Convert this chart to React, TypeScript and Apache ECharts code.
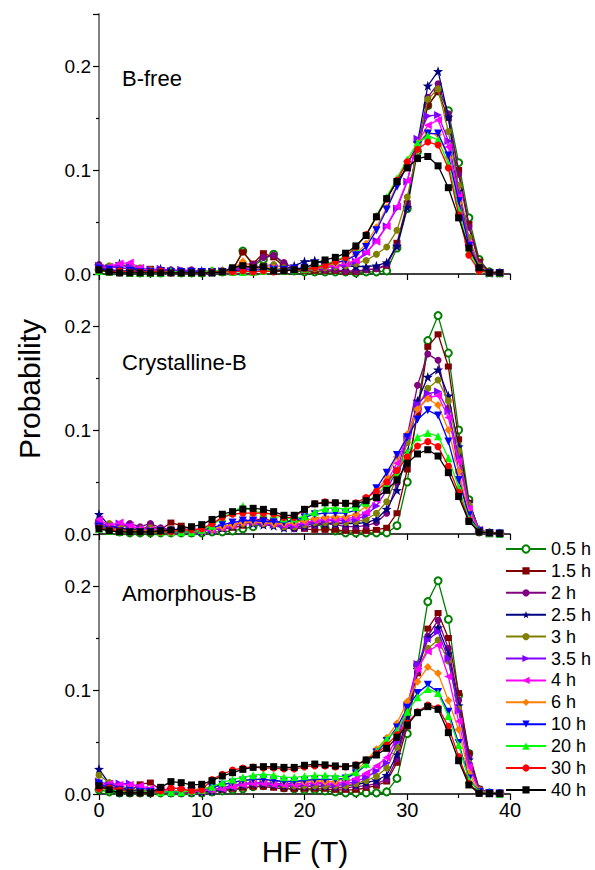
import React, { useEffect, useRef } from 'react';
import * as echarts from 'echarts';

// HF (T) values of every point
const HF = [0,1,2,3,4,5,6,7,8,9,10,11,12,13,14,15,16,17,18,19,20,21,22,23,24,25,26,27,28,29,30,31,32,33,34,35,36,37,38,39];

const SERIES_NAMES = ['0.5 h','1.5 h','2 h','2.5 h','3 h','3.5 h','4 h','6 h','10 h','20 h','30 h','40 h'];
const PANEL_TITLES = ['B-free','Crystalline-B','Amorphous-B'];
const X_TICKS = [0, 10, 20, 30, 40];
const Y_TICK_LABELS = [0, 0.1, 0.2];

// ---- B-free ----
const bf05 = [0.004,0.003,0.002,0.002,0.001,0.001,0.001,0.002,0.001,0.001,0.001,0.002,0.002,0.004,0.022,0.008,0.014,0.019,0.008,0.003,0.002,0.002,0.002,0.002,0.002,0.001,0.002,0.002,0.003,0.025,0.063,0.118,0.162,0.176,0.157,0.107,0.054,0.014,0.002,0.001];
const bf15 = [0.006,0.004,0.003,0.002,0.004,0.005,0.002,0.001,0.002,0.001,0.001,0.002,0.002,0.004,0.021,0.010,0.020,0.016,0.007,0.004,0.003,0.003,0.003,0.003,0.002,0.002,0.004,0.005,0.008,0.030,0.068,0.120,0.162,0.175,0.150,0.100,0.048,0.012,0.002,0.001];
const bf2 = [0.009,0.007,0.006,0.005,0.004,0.003,0.003,0.004,0.003,0.004,0.002,0.002,0.003,0.005,0.010,0.009,0.016,0.018,0.011,0.005,0.004,0.005,0.004,0.004,0.003,0.003,0.004,0.005,0.009,0.027,0.066,0.122,0.170,0.183,0.154,0.096,0.045,0.010,0.002,0.001];
const bf25 = [0.008,0.006,0.010,0.006,0.004,0.003,0.005,0.003,0.002,0.002,0.003,0.002,0.003,0.004,0.006,0.005,0.006,0.005,0.004,0.008,0.012,0.013,0.010,0.008,0.008,0.007,0.007,0.008,0.011,0.027,0.064,0.126,0.181,0.195,0.151,0.080,0.030,0.006,0.001,0.001];
const bf3 = [0.007,0.008,0.009,0.008,0.006,0.004,0.003,0.002,0.003,0.002,0.002,0.003,0.003,0.004,0.008,0.006,0.008,0.009,0.006,0.004,0.004,0.005,0.006,0.007,0.008,0.010,0.013,0.019,0.026,0.042,0.074,0.120,0.168,0.178,0.137,0.085,0.035,0.008,0.002,0.001];
const bf35 = [0.008,0.006,0.008,0.007,0.005,0.004,0.005,0.003,0.004,0.003,0.002,0.002,0.003,0.004,0.006,0.005,0.006,0.006,0.004,0.004,0.005,0.006,0.007,0.008,0.009,0.012,0.020,0.032,0.046,0.063,0.089,0.130,0.152,0.153,0.128,0.078,0.030,0.006,0.001,0.001];
const bf4 = [0.006,0.007,0.010,0.011,0.006,0.003,0.003,0.002,0.002,0.002,0.002,0.002,0.002,0.003,0.005,0.005,0.007,0.006,0.004,0.004,0.005,0.006,0.007,0.008,0.010,0.013,0.021,0.031,0.046,0.065,0.090,0.126,0.143,0.148,0.122,0.074,0.029,0.006,0.001,0.001];
const bf6 = [0.004,0.003,0.003,0.002,0.002,0.002,0.002,0.002,0.002,0.002,0.002,0.002,0.003,0.005,0.012,0.006,0.006,0.006,0.004,0.004,0.005,0.006,0.008,0.010,0.013,0.019,0.029,0.045,0.064,0.086,0.105,0.126,0.136,0.134,0.112,0.068,0.026,0.005,0.001,0.001];
const bf10 = [0.005,0.004,0.003,0.003,0.002,0.002,0.003,0.002,0.002,0.002,0.002,0.002,0.002,0.003,0.004,0.004,0.004,0.004,0.004,0.005,0.006,0.007,0.009,0.011,0.013,0.018,0.026,0.042,0.062,0.084,0.105,0.124,0.135,0.135,0.114,0.070,0.027,0.005,0.001,0.001];
const bf20 = [0.003,0.002,0.002,0.001,0.001,0.001,0.001,0.003,0.001,0.001,0.001,0.004,0.002,0.002,0.002,0.002,0.003,0.004,0.003,0.004,0.005,0.007,0.009,0.013,0.017,0.026,0.038,0.056,0.074,0.092,0.110,0.126,0.133,0.129,0.106,0.062,0.022,0.004,0.001,0.001];
const bf30 = [0.004,0.002,0.003,0.002,0.002,0.002,0.003,0.001,0.001,0.001,0.001,0.002,0.002,0.002,0.003,0.002,0.003,0.002,0.003,0.004,0.005,0.006,0.008,0.012,0.016,0.026,0.038,0.055,0.072,0.090,0.108,0.120,0.127,0.124,0.102,0.057,0.018,0.003,0.001,0.001];
const bf40 = [0.004,0.002,0.001,0.001,0.001,0.001,0.001,0.001,0.001,0.001,0.001,0.001,0.002,0.006,0.008,0.006,0.007,0.003,0.003,0.004,0.006,0.010,0.0135,0.016,0.020,0.027,0.037,0.055,0.0725,0.089,0.102,0.111,0.113,0.104,0.083,0.054,0.025,0.006,0.001,0.001];

// ---- Crystalline-B ----
const cr05 = [0.010,0.004,0.002,0.001,0.001,0.001,0.001,0.001,0.001,0.001,0.001,0.002,0.002,0.003,0.005,0.007,0.010,0.011,0.012,0.013,0.013,0.010,0.006,0.003,0.001,0.001,0.001,0.001,0.001,0.008,0.050,0.120,0.186,0.210,0.174,0.100,0.033,0.002,0.001,0.0005];
const cr15 = [0.012,0.006,0.004,0.005,0.004,0.008,0.004,0.011,0.008,0.005,0.004,0.005,0.005,0.006,0.008,0.013,0.015,0.012,0.008,0.006,0.005,0.004,0.004,0.004,0.003,0.003,0.003,0.004,0.006,0.020,0.062,0.115,0.180,0.192,0.161,0.091,0.030,0.004,0.001,0.0005];
const cr2 = [0.008,0.007,0.006,0.010,0.007,0.010,0.006,0.004,0.004,0.003,0.003,0.004,0.006,0.009,0.012,0.013,0.012,0.009,0.006,0.005,0.006,0.008,0.010,0.009,0.007,0.007,0.008,0.011,0.020,0.049,0.094,0.143,0.173,0.167,0.121,0.060,0.015,0.002,0.001,0.0005];
const cr25 = [0.019,0.008,0.006,0.004,0.003,0.003,0.004,0.003,0.003,0.002,0.003,0.004,0.006,0.008,0.010,0.010,0.009,0.008,0.006,0.006,0.008,0.010,0.010,0.010,0.010,0.010,0.011,0.014,0.024,0.042,0.078,0.128,0.151,0.158,0.133,0.084,0.030,0.004,0.001,0.0005];
const cr3 = [0.008,0.010,0.008,0.006,0.005,0.006,0.004,0.003,0.004,0.003,0.003,0.004,0.006,0.008,0.010,0.011,0.010,0.009,0.007,0.007,0.009,0.011,0.011,0.011,0.011,0.012,0.014,0.020,0.031,0.055,0.088,0.122,0.140,0.148,0.128,0.080,0.028,0.004,0.001,0.0005];
const cr35 = [0.010,0.008,0.010,0.008,0.005,0.004,0.004,0.003,0.003,0.003,0.003,0.004,0.006,0.008,0.011,0.011,0.010,0.009,0.008,0.008,0.010,0.012,0.013,0.013,0.013,0.014,0.018,0.027,0.042,0.062,0.093,0.125,0.135,0.137,0.118,0.074,0.026,0.004,0.001,0.0005];
const cr4 = [0.014,0.008,0.011,0.008,0.005,0.004,0.004,0.003,0.003,0.003,0.003,0.004,0.006,0.008,0.011,0.012,0.011,0.010,0.009,0.009,0.011,0.013,0.014,0.014,0.015,0.016,0.021,0.033,0.050,0.068,0.095,0.120,0.131,0.133,0.112,0.070,0.024,0.004,0.001,0.0005];
const cr6 = [0.006,0.005,0.004,0.003,0.003,0.003,0.003,0.003,0.003,0.004,0.004,0.005,0.007,0.009,0.011,0.012,0.011,0.010,0.010,0.011,0.013,0.015,0.016,0.0165,0.0165,0.019,0.027,0.040,0.055,0.074,0.096,0.120,0.130,0.124,0.100,0.060,0.020,0.003,0.001,0.0005];
const cr10 = [0.007,0.004,0.003,0.002,0.002,0.002,0.003,0.002,0.002,0.003,0.004,0.006,0.009,0.011,0.013,0.013,0.012,0.012,0.011,0.013,0.016,0.019,0.020,0.020,0.020,0.023,0.033,0.044,0.059,0.076,0.093,0.110,0.119,0.114,0.089,0.052,0.018,0.003,0.001,0.0005];
const cr20 = [0.005,0.003,0.002,0.002,0.002,0.002,0.002,0.002,0.002,0.002,0.004,0.008,0.016,0.0205,0.027,0.0215,0.0205,0.019,0.015,0.015,0.017,0.021,0.0245,0.025,0.024,0.026,0.030,0.037,0.048,0.060,0.078,0.093,0.097,0.094,0.073,0.045,0.015,0.003,0.001,0.0005];
const cr30 = [0.006,0.004,0.003,0.002,0.002,0.002,0.002,0.002,0.004,0.004,0.005,0.010,0.016,0.019,0.020,0.020,0.020,0.019,0.016,0.016,0.0237,0.029,0.031,0.030,0.0295,0.030,0.035,0.041,0.050,0.061,0.074,0.0846,0.0888,0.084,0.065,0.040,0.013,0.002,0.001,0.0005];
const cr40 = [0.005,0.003,0.002,0.002,0.002,0.002,0.003,0.004,0.005,0.007,0.009,0.014,0.019,0.0215,0.024,0.0247,0.0237,0.0215,0.018,0.018,0.0237,0.029,0.030,0.030,0.0295,0.029,0.032,0.035,0.042,0.052,0.068,0.077,0.081,0.075,0.059,0.036,0.012,0.002,0.001,0.0005];

// ---- Amorphous-B ----
const am05 = [0.004,0.002,0.001,0.001,0.001,0.001,0.001,0.001,0.001,0.001,0.001,0.002,0.003,0.004,0.005,0.007,0.008,0.008,0.006,0.005,0.004,0.004,0.003,0.002,0.001,0.001,0.001,0.001,0.002,0.015,0.058,0.124,0.185,0.205,0.168,0.095,0.039,0.004,0.001,0.0005];
const am15 = [0.005,0.006,0.004,0.003,0.0093,0.011,0.004,0.003,0.002,0.002,0.002,0.003,0.004,0.005,0.006,0.007,0.007,0.006,0.005,0.005,0.005,0.005,0.005,0.004,0.004,0.004,0.006,0.008,0.012,0.030,0.065,0.116,0.159,0.174,0.150,0.097,0.039,0.005,0.001,0.0005];
const am2 = [0.008,0.007,0.006,0.004,0.003,0.003,0.003,0.002,0.002,0.002,0.002,0.003,0.005,0.007,0.009,0.010,0.010,0.009,0.008,0.007,0.007,0.007,0.007,0.006,0.006,0.007,0.008,0.010,0.014,0.034,0.070,0.118,0.152,0.167,0.140,0.090,0.035,0.004,0.001,0.0005];
const am25 = [0.024,0.010,0.006,0.004,0.003,0.003,0.003,0.002,0.002,0.002,0.002,0.003,0.005,0.007,0.009,0.010,0.010,0.009,0.008,0.008,0.008,0.008,0.008,0.008,0.008,0.009,0.011,0.013,0.018,0.038,0.075,0.120,0.150,0.160,0.135,0.085,0.033,0.004,0.001,0.0005];
const am3 = [0.018,0.011,0.008,0.005,0.004,0.003,0.003,0.003,0.002,0.002,0.003,0.004,0.006,0.008,0.010,0.011,0.011,0.010,0.009,0.008,0.008,0.008,0.008,0.008,0.008,0.010,0.013,0.017,0.025,0.045,0.080,0.120,0.140,0.148,0.128,0.082,0.030,0.004,0.001,0.0005];
const am35 = [0.012,0.009,0.010,0.010,0.006,0.004,0.004,0.003,0.003,0.003,0.003,0.004,0.006,0.008,0.010,0.011,0.011,0.010,0.010,0.010,0.010,0.010,0.010,0.009,0.010,0.012,0.016,0.022,0.030,0.050,0.085,0.125,0.148,0.156,0.130,0.080,0.030,0.004,0.001,0.0005];
const am4 = [0.008,0.010,0.009,0.009,0.008,0.005,0.004,0.003,0.003,0.003,0.003,0.004,0.005,0.007,0.009,0.010,0.010,0.009,0.009,0.009,0.010,0.011,0.011,0.010,0.012,0.015,0.020,0.027,0.035,0.055,0.085,0.120,0.137,0.143,0.113,0.070,0.026,0.003,0.001,0.0005];
const am6 = [0.006,0.004,0.003,0.003,0.002,0.002,0.002,0.003,0.003,0.004,0.005,0.007,0.009,0.011,0.013,0.014,0.014,0.013,0.012,0.012,0.012,0.013,0.012,0.012,0.015,0.022,0.032,0.043,0.054,0.068,0.089,0.108,0.122,0.116,0.090,0.062,0.020,0.003,0.001,0.0005];
const am10 = [0.010,0.006,0.004,0.003,0.002,0.002,0.002,0.002,0.002,0.003,0.004,0.006,0.009,0.011,0.013,0.014,0.014,0.013,0.012,0.012,0.013,0.014,0.014,0.014,0.015,0.020,0.028,0.040,0.051,0.064,0.083,0.097,0.105,0.098,0.079,0.049,0.015,0.002,0.001,0.0005];
const am20 = [0.006,0.004,0.003,0.002,0.002,0.002,0.002,0.002,0.002,0.003,0.004,0.007,0.011,0.014,0.016,0.018,0.019,0.018,0.016,0.016,0.017,0.018,0.018,0.017,0.017,0.021,0.029,0.041,0.053,0.061,0.079,0.093,0.101,0.097,0.075,0.047,0.014,0.002,0.001,0.0005];
const am30 = [0.005,0.006,0.004,0.002,0.001,0.001,0.003,0.006,0.005,0.003,0.004,0.014,0.019,0.023,0.025,0.026,0.025,0.025,0.024,0.024,0.026,0.027,0.027,0.026,0.026,0.028,0.033,0.039,0.047,0.057,0.068,0.079,0.0856,0.083,0.065,0.036,0.010,0.001,0.0005,0.0005];
const am40 = [0.008,0.004,0.001,0.001,0.001,0.001,0.0064,0.0119,0.0109,0.0087,0.0093,0.0128,0.0173,0.0205,0.0237,0.0256,0.0263,0.0263,0.0256,0.0256,0.0276,0.0288,0.028,0.027,0.0263,0.0276,0.0327,0.0375,0.0439,0.0545,0.0663,0.0782,0.084,0.0814,0.059,0.032,0.0087,0.0006,0.0005,0.0005];

const PANELS = [
  [bf05, bf15, bf2, bf25, bf3, bf35, bf4, bf6, bf10, bf20, bf30, bf40],
  [cr05, cr15, cr2, cr25, cr3, cr35, cr4, cr6, cr10, cr20, cr30, cr40],
  [am05, am15, am2, am25, am3, am35, am4, am6, am10, am20, am30, am40],
];

// ---- styles (not data) ----
const STAR = 'path://M12,0L14.9,8.3L23.4,8.6L16.7,14L19.1,22.4L12,17.4L4.9,22.4L7.3,14L0.6,8.6L9.1,8.3Z';
const STYLES: any[] = [
  { color: '#008000', symbol: 'emptyCircle', size: 7 },
  { color: '#800000', symbol: 'rect', size: [7, 6] },
  { color: '#800080', symbol: 'circle', size: 7 },
  { color: '#000080', symbol: STAR, size: 10 },
  { color: '#808000', symbol: 'circle', size: 7 },
  { color: '#8000FF', symbol: 'triangle', size: 8, rotate: -90 },
  { color: '#FF00FF', symbol: 'triangle', size: 8, rotate: 90 },
  { color: '#FF8000', symbol: 'diamond', size: 8 },
  { color: '#0000FF', symbol: 'triangle', size: 8, rotate: 180 },
  { color: '#00FF00', symbol: 'triangle', size: 8 },
  { color: '#FF0000', symbol: 'circle', size: 7 },
  { color: '#000000', symbol: 'rect', size: 7 },
];
const FONT = 'Liberation Sans, Arial, sans-serif';
const GRID_TOPS = [14, 274, 534];

export default function App() {
  const ref = useRef<HTMLDivElement>(null);
  useEffect(() => {
    if (!ref.current) return;
    const chart = echarts.init(ref.current, undefined, { renderer: 'svg' });
    const grid = GRID_TOPS.map((t) => ({ left: 99, top: t, width: 411, height: 260 }));
    const xAxis = GRID_TOPS.map((_, p) => ({
      type: 'value', gridIndex: p, min: X_TICKS[0], max: X_TICKS[X_TICKS.length - 1], interval: 10,
      axisLine: { show: true, onZero: false, lineStyle: { color: '#000', width: 1.5 } },
      axisTick: { show: true, inside: false, length: 6, lineStyle: { color: '#000', width: 1.2 } },
      minorTick: { show: true, splitNumber: 2, length: 4, lineStyle: { color: '#000', width: 1.2 } },
      splitLine: { show: false },
      axisLabel: { show: p === 2, fontSize: 20, color: '#000', fontFamily: FONT, margin: 6 },
    }));
    const yAxis = GRID_TOPS.map((_, p) => ({
      type: 'value', gridIndex: p, min: 0, max: 0.25, interval: 0.1,
      axisLine: { show: true, lineStyle: { color: '#808080', width: 2 } },
      axisTick: { show: true, inside: false, length: 6, lineStyle: { color: '#000', width: 1.2 } },
      minorTick: { show: true, splitNumber: 2, length: 3, lineStyle: { color: '#000', width: 1.2 } },
      splitLine: { show: false },
      axisLabel: {
        fontSize: 19, color: '#000', fontFamily: FONT, margin: 8, showMaxLabel: false,
        formatter: (v: number) => (Y_TICK_LABELS.some((t) => Math.abs(t - v) < 1e-9) ? v.toFixed(1) : ''),
      },
    }));
    const series: any[] = [];
    PANELS.forEach((panel, p) => {
      panel.forEach((vals, s) => {
        const st = STYLES[s];
        series.push({
          type: 'line', name: SERIES_NAMES[s], xAxisIndex: p, yAxisIndex: p,
          data: HF.map((x, i) => [x, vals[i]]),
          symbol: st.symbol, symbolSize: st.size, symbolRotate: st.rotate || 0,
          showSymbol: true, z: 2 + s,
          lineStyle: { color: st.color, width: 1.3 },
          itemStyle: { color: st.color, borderColor: st.color, borderWidth: st.symbol === 'emptyCircle' ? 1.3 : 0 },
          emphasis: { disabled: true },
        });
      });
    });
    chart.setOption({
      animation: false,
      backgroundColor: '#fff',
      grid, xAxis, yAxis, series,
      legend: {
        data: SERIES_NAMES, orient: 'vertical', left: 505, top: 540, padding: 0,
        itemWidth: 40, itemHeight: 9, itemGap: 3.9,
        textStyle: { fontSize: 18, lineHeight: 18, color: '#000', fontFamily: FONT },
        selectedMode: false,
      },
      graphic: [
        ...PANEL_TITLES.map((t, p) => ({
          type: 'text', x: 122, y: [78, 362, 593][p],
          style: { text: t, fontSize: 22, fontFamily: FONT, fill: '#000', align: 'left', verticalAlign: 'middle' },
        })),
        { type: 'text', x: 29, y: 389, rotation: Math.PI / 2,
          style: { text: 'Probability', fontSize: 30, fontFamily: FONT, fill: '#000', align: 'center', verticalAlign: 'middle' } },
        { type: 'text', x: 305, y: 851,
          style: { text: 'HF (T)', fontSize: 30, fontFamily: FONT, fill: '#000', align: 'center', verticalAlign: 'middle' } },
      ],
    });
    return () => chart.dispose();
  }, []);
  return <div ref={ref} style={{ position: 'fixed', left: 0, top: 0, width: 595, height: 870 }} />;
}
